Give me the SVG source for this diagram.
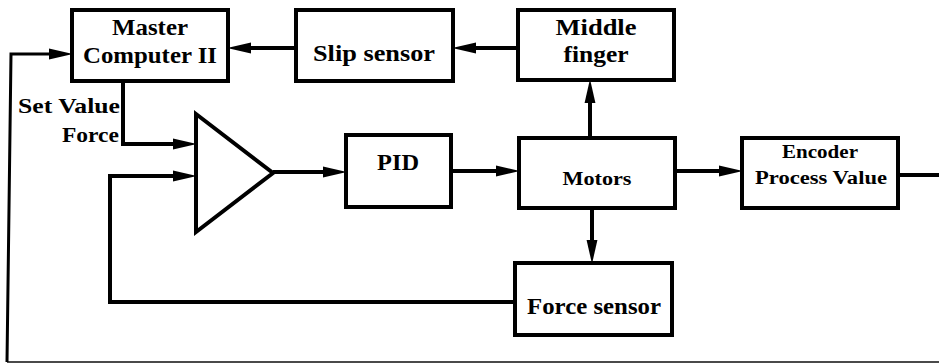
<svg xmlns="http://www.w3.org/2000/svg" width="939" height="364" viewBox="0 0 939 364">
<style>
.box{fill:#fff;stroke:#000;stroke-width:4}
.tri{fill:#fff;stroke:#000;stroke-width:4;stroke-linejoin:miter}
.c{fill:none;stroke:#000;stroke-width:4}
.thin{fill:none;stroke:#000;stroke-width:3}
.gray{fill:none;stroke:#4a4a4a;stroke-width:2}
.t{font-family:'Liberation Serif','DejaVu Serif',serif;font-weight:700;fill:#000}
.m{text-anchor:middle}
.e{text-anchor:end}
</style>
<defs>
<marker id="ah" markerUnits="userSpaceOnUse" markerWidth="24" markerHeight="12" viewBox="0 0 22 10" refX="12" refY="5" orient="auto">
<path d="M0,0 L22,5 L0,10 z" fill="#000"/>
</marker>
</defs>
<g id="connectors">
<path class="c" d="M296,48 H238" marker-end="url(#ah)"/>
<path class="c" d="M518,48 H463" marker-end="url(#ah)"/>
<path class="c" d="M590,138 V90" marker-end="url(#ah)"/>
<path class="c" d="M123,81 V144 H186" marker-end="url(#ah)"/>
<path class="c" d="M273,172 H336" marker-end="url(#ah)"/>
<path class="c" d="M451,171 H509" marker-end="url(#ah)"/>
<path class="c" d="M675,171 H732" marker-end="url(#ah)"/>
<path class="c" d="M898,175 H939"/>
<path class="c" d="M592,208 V253" marker-end="url(#ah)"/>
<path class="c" d="M515,302 H110 V176 H186" marker-end="url(#ah)"/>
<path class="gray" d="M939,362 H7"/>
<path class="thin" d="M7,362 L11,54 H62" marker-end="url(#ah)"/>
</g>
<g id="master">
<rect class="box" x="72" y="10" width="156" height="71"/>
<text class="t m" x="150" y="35" font-size="23" textLength="76" lengthAdjust="spacingAndGlyphs">Master</text>
<text class="t m" x="150" y="63" font-size="23" textLength="134" lengthAdjust="spacingAndGlyphs">Computer II</text>
</g>
<g id="slip">
<rect class="box" x="296" y="10" width="157" height="71"/>
<text class="t m" x="374" y="61" font-size="23" textLength="122" lengthAdjust="spacingAndGlyphs">Slip sensor</text>
</g>
<g id="middle">
<rect class="box" x="518" y="10" width="156" height="70"/>
<text class="t m" x="596" y="35" font-size="23" textLength="81" lengthAdjust="spacingAndGlyphs">Middle</text>
<text class="t m" x="596" y="62" font-size="23" textLength="65" lengthAdjust="spacingAndGlyphs">finger</text>
</g>
<g id="comparator">
<path class="tri" d="M196,114 L273,173 L196,232 Z"/>
</g>
<g id="setvalue">
<text class="t e" x="120" y="113" font-size="22" textLength="102" lengthAdjust="spacingAndGlyphs">Set Value</text>
<text class="t e" x="119" y="142" font-size="22" textLength="57" lengthAdjust="spacingAndGlyphs">Force</text>
</g>
<g id="pid">
<rect class="box" x="346" y="135" width="105" height="72"/>
<text class="t m" x="398" y="170" font-size="23" textLength="42" lengthAdjust="spacingAndGlyphs">PID</text>
</g>
<g id="motors">
<rect class="box" x="519" y="138" width="156" height="70"/>
<text class="t m" x="597" y="185" font-size="19" textLength="69" lengthAdjust="spacingAndGlyphs">Motors</text>
</g>
<g id="encoder">
<rect class="box" x="742" y="138" width="156" height="70"/>
<text class="t m" x="820" y="158" font-size="18" textLength="76" lengthAdjust="spacingAndGlyphs">Encoder</text>
<text class="t m" x="821" y="184" font-size="18" textLength="132" lengthAdjust="spacingAndGlyphs">Process Value</text>
</g>
<g id="forcesensor">
<rect class="box" x="515" y="263" width="157" height="72"/>
<text class="t m" x="594" y="314" font-size="23" textLength="134" lengthAdjust="spacingAndGlyphs">Force sensor</text>
</g>
</svg>
